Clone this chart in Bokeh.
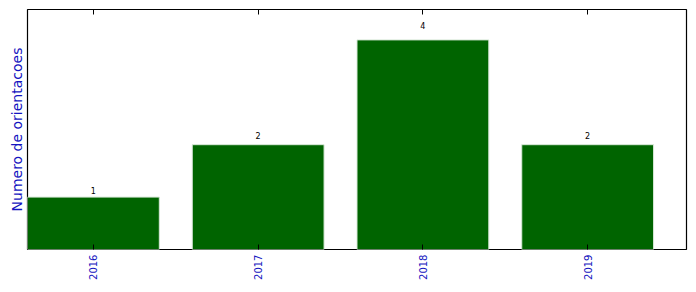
from bokeh.plotting import figure
from bokeh.models import ColumnDataSource, LinearAxis, Range1d, FixedTicker, CustomJSTickFormatter
from bokeh.embed import file_html
from bokeh.resources import INLINE
from bokeh.core.properties import value

years = ["2016", "2017", "2018", "2019"]
counts = [1, 2, 4, 2]

xs = list(range(len(years)))
src = ColumnDataSource(dict(x=xs, top=counts, ly=[c * 1.05 for c in counts],
                            lab=[str(c) for c in counts]))

p = figure(width=696, height=292, output_backend="svg", toolbar_location=None,
           x_range=Range1d(-0.4, 3.6), y_range=Range1d(0, 4.58),
           min_border_left=27, min_border_right=10, min_border_top=9, min_border_bottom=43,
           x_axis_location=None, y_axis_location=None)
p.grid.visible = False
p.outline_line_color = "black"
p.outline_line_width = 1.2
p.background_fill_color = "white"
p.border_fill_color = "white"

p.vbar(x="x", top="top", width=0.8, bottom=0, source=src,
       fill_color="#006400", line_color="#d8e8d8", line_width=1)

p.text(x="x", y="ly", text="lab", source=src, text_align="center",
       text_baseline="bottom", text_font_size="8px",
       text_color="black", text_font=value("DejaVu Sans"))

labels_js = "const l = %s; return l[Math.round(tick)] || '';" % str(years)

xb = LinearAxis(ticker=FixedTicker(ticks=xs),
                formatter=CustomJSTickFormatter(code=labels_js))
xb.major_label_orientation = 1.5707963
xb.major_tick_in = 5
xb.major_tick_out = 0
xb.minor_tick_line_color = None
xb.axis_line_color = None
xb.major_label_text_color = "#1414c0"
xb.major_label_text_font = "DejaVu Sans"
xb.major_label_text_font_size = "10px"
xb.major_label_standoff = 5
p.add_layout(xb, "below")

xa = LinearAxis(ticker=FixedTicker(ticks=xs),
                formatter=CustomJSTickFormatter(code="return '';"))
xa.major_tick_in = 5
xa.major_tick_out = 0
xa.major_label_standoff = 0
xa.minor_tick_line_color = None
xa.axis_line_color = None
p.add_layout(xa, "above")

ya = LinearAxis(ticker=FixedTicker(ticks=[]))
ya.axis_label = "Numero de orientacoes"
ya.axis_label_text_font = "DejaVu Sans"
ya.axis_label_text_font_size = "14px"
ya.axis_label_text_font_style = "normal"
ya.axis_label_text_color = "#1414c0"
ya.axis_label_standoff = 3
ya.major_tick_line_color = None
ya.minor_tick_line_color = None
ya.axis_line_color = None
p.add_layout(ya, "left")

open("out.html", "w").write(file_html(p, INLINE))
